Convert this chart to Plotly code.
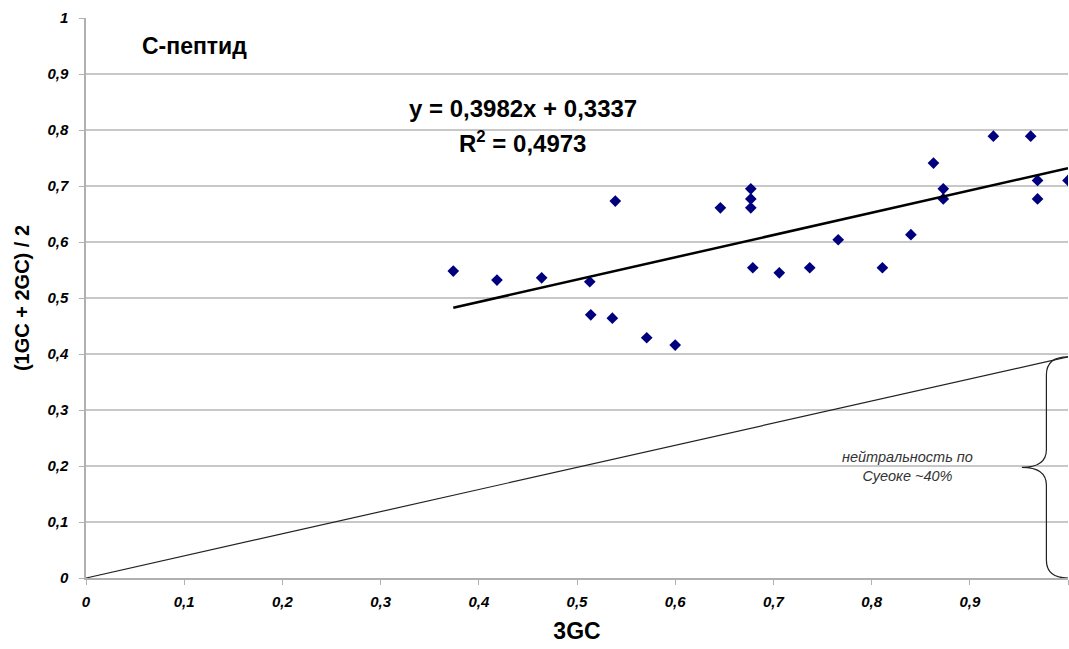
import plotly.graph_objects as go

# Data
gc3 = [0.374, 0.4185, 0.464, 0.513, 0.514, 0.536, 0.539, 0.571, 0.600,
       0.646, 0.677, 0.677, 0.677, 0.679, 0.706, 0.737, 0.766, 0.811,
       0.840, 0.863, 0.873, 0.873, 0.924, 0.962, 0.969, 0.969, 1.000]
gc12 = [0.548, 0.532, 0.536, 0.529, 0.470, 0.464, 0.673, 0.429, 0.416,
        0.661, 0.695, 0.677, 0.661, 0.554, 0.545, 0.554, 0.604, 0.554,
        0.613, 0.741, 0.695, 0.677, 0.789, 0.789, 0.710, 0.677, 0.710]

slope = 0.3982
intercept = 0.3337
trend_x = [min(gc3), max(gc3)]
trend_y = [slope * v + intercept for v in trend_x]

neutral_x = [0, 1]
neutral_y = [0, 0.395]

FONT = "Liberation Sans, Arial, sans-serif"

fig = go.Figure()
fig.add_trace(go.Scatter(x=neutral_x, y=neutral_y, mode="lines",
                         line=dict(color="#222222", width=1.2), hoverinfo="skip",
                         showlegend=False))
fig.add_trace(go.Scatter(x=gc3, y=gc12, mode="markers",
                         marker=dict(symbol="diamond", size=9, color="#00007f"),
                         showlegend=False))
fig.add_trace(go.Scatter(x=trend_x, y=trend_y, mode="lines",
                         line=dict(color="black", width=2.5), showlegend=False))

# curly brace to the right
bx_tip, bx_mid, bx_end = 0.953, 0.978, 1.0
y_top, y_mid, y_bot = neutral_y[1], neutral_y[1] / 2, 0.0
r = 0.02
brace = (f"M {bx_end},{y_top} Q {bx_mid},{y_top} {bx_mid},{y_top - r * 1.6} "
         f"L {bx_mid},{y_mid + r * 1.6} Q {bx_mid},{y_mid} {bx_tip},{y_mid} "
         f"Q {bx_mid},{y_mid} {bx_mid},{y_mid - r * 1.6} "
         f"L {bx_mid},{y_bot + r * 1.6} Q {bx_mid},{y_bot} {bx_end},{y_bot}")
fig.add_shape(type="path", path=brace, xref="x", yref="y",
              line=dict(color="#222222", width=1.2))

fig.add_annotation(x=0.837, y=0.2, xref="x", yref="y",
                   text="<i>нейтральность по<br>Суеоке ~40%</i>",
                   showarrow=False, font=dict(family=FONT, size=14.5, color="#333333"),
                   align="center")
fig.add_annotation(x=0.445, y=0.838, xref="x", yref="y",
                   text="<b>y = 0,3982x + 0,3337</b>", showarrow=False,
                   font=dict(family=FONT, size=24, color="black"))
fig.add_annotation(x=0.445, y=0.778, xref="x", yref="y",
                   text="<b>R<sup>2</sup> = 0,4973</b>", showarrow=False,
                   font=dict(family=FONT, size=24, color="black"))
fig.add_annotation(x=0.110, y=0.950, xref="x", yref="y",
                   text="<b>С-пептид</b>", showarrow=False,
                   font=dict(family=FONT, size=23, color="black"))

fig.update_layout(
    width=1069, height=649,
    margin=dict(l=86, r=1, t=18, b=71),
    plot_bgcolor="white", paper_bgcolor="white",
    separators=", ",
    font=dict(family=FONT, color="black"),
)
tickfont = dict(family=FONT, size=15, color="black", weight="bold", style="italic")
fig.update_xaxes(range=[0, 1], dtick=0.1, tick0=0, showgrid=False, zeroline=False,
                 showline=True, linecolor="#b0b0b0", linewidth=1.5,
                 ticks="outside", ticklen=5, tickcolor="#b0b0b0",
                 tickfont=tickfont, ticklabelstandoff=4,
                 title=dict(text="<b>3GC</b>", font=dict(family=FONT, size=23), standoff=14))
fig.update_yaxes(range=[0, 1], dtick=0.1, tick0=0, showgrid=True, gridcolor="#c8c8c8",
                 gridwidth=1.5, zeroline=False,
                 showline=True, linecolor="#b0b0b0", linewidth=1.5,
                 ticks="outside", ticklen=5, tickcolor="#b0b0b0",
                 tickfont=tickfont, ticklabelstandoff=8,
                 title=dict(text="<b>(1GC + 2GC) / 2</b>", font=dict(family=FONT, size=20), standoff=12))

fig.write_html("out.html")
